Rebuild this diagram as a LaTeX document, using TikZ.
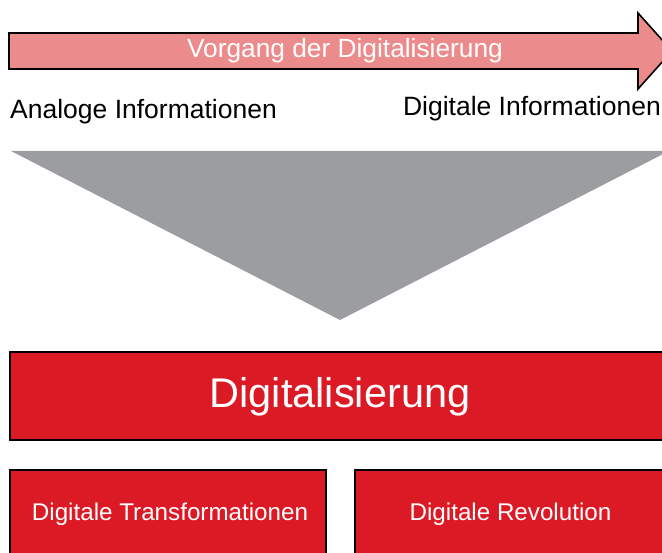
\documentclass[tikz,border=0pt]{standalone}
\usepackage{fontspec}
\setmainfont{Liberation Sans}
\definecolor{arrowpink}{HTML}{EC8B8C}
\definecolor{boxred}{HTML}{DC1A26}
\definecolor{trigray}{HTML}{9C9DA1}
\begin{document}
\begin{tikzpicture}[x=1pt,y=-1pt,
  redbox/.style={draw=black,line width=1.6pt,fill=boxred,inner sep=0pt},
  lbl/.style={inner sep=0pt,anchor=base},
  wtxt/.style={lbl,text=white}]
\useasboundingbox (0,0) rectangle (662,553);
\clip (0,0) rectangle (662,553);
% process arrow
\draw[line width=1.6pt,fill=arrowpink,line join=miter]
  (9,33) -- (638,33) -- (638,13) -- (672,51) -- (638,89) -- (638,69) -- (9,69) -- cycle;
\node[wtxt,font=\fontsize{26.3}{30}\selectfont] (vorgang) at (345,58) {Vorgang der Digitalisierung};
\node[lbl,anchor=base west,font=\fontsize{26.5}{30}\selectfont] (analog) at (10,119) {Analoge Informationen};
\node[lbl,anchor=base east,font=\fontsize{26.5}{30}\selectfont] (digital) at (661,116) {Digitale Informationen};
% funnel triangle
\fill[trigray] (11,151) -- (669,151) -- (340,320) -- cycle;
% boxes
\node[redbox,minimum width=660pt,minimum height=88pt] (digbox) at (340,396) {};
\node[wtxt,font=\fontsize{41.5}{48}\selectfont] (digtxt) at (340,408) {Digitalisierung};
\node[redbox,minimum width=316pt,minimum height=90pt] (transbox) at (168,515) {};
\node[wtxt,font=\fontsize{24.2}{28}\selectfont] (transtxt) at (170,521) {Digitale Transformationen};
\node[redbox,minimum width=311pt,minimum height=90pt] (revbox) at (510.5,515) {};
\node[wtxt,font=\fontsize{24.2}{28}\selectfont] (revtxt) at (510.5,521) {Digitale Revolution};
\end{tikzpicture}
\end{document}
